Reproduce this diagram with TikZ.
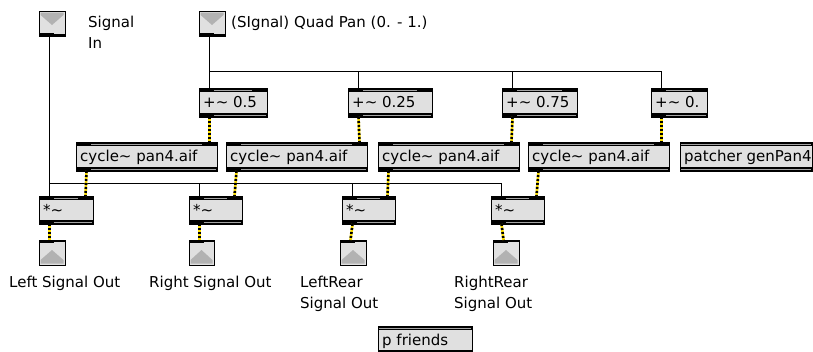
\documentclass[tikz,border=0pt]{standalone}
\usepackage{fontspec}
\newfontfamily\geneva{DejaVu Sans}
\usetikzlibrary{calc}
\definecolor{boxfill}{RGB}{224,224,224}
\definecolor{stripe}{RGB}{165,165,165}
\definecolor{triang}{RGB}{178,178,178}
\definecolor{sigyellow}{RGB}{255,225,0}
\tikzset{
  objbody/.style={draw=black, fill=boxfill, line width=1pt, inner sep=0pt, outer sep=0pt},
  objtext/.style={font=\geneva\fontsize{15}{21}\selectfont, inner sep=0pt, text=black},
  lbl/.style={font=\geneva\fontsize{15}{21}\selectfont, inner sep=0pt, text=black, align=left},
  cord/.style={line width=1pt, draw=black},
  sigcord/.style={line width=2.6pt, draw=black, dash pattern=on 2pt off 2pt,
                  preaction={draw=sigyellow, line width=2.6pt, solid}},
}
% object box: name, x1, y1, x2, y2, text, io flag
\newcommand{\maxobj}[7]{%
  \node[objbody, minimum width={(#4-#2)*1pt}, minimum height={(#5-#3)*1pt}, anchor=north west] (#1) at (#2,#3) {};
  \fill[black] (#2,#3) rectangle (#4,#3+4);
  \fill[black] (#2,#5-4) rectangle (#4,#5);
  \ifnum#7=1
    \fill[stripe] (#2+15,#3+1.5) rectangle (#4-15,#3+2.5);
    \fill[stripe] (#2+15,#5-2.5) rectangle (#4-1,#5-1.5);
  \else
    \fill[stripe] (#2+1,#3+1.5) rectangle (#4-1,#3+2.5);
    \fill[stripe] (#2+1,#5-2.5) rectangle (#4-1,#5-1.5);
  \fi
  \node[objtext, anchor=base west] (#1-t) at (#2+4,#3+19) {#6};
  \coordinate (#1-i1) at (#2+10.5,#3);
  \coordinate (#1-i2) at (#4-7.5,#3);
  \coordinate (#1-o) at (#2+10.5,#5);
}
% inlet object: name, x1, y1, x2, y2
\newcommand{\maxinlet}[5]{%
  \node[objbody, minimum width={(#4-#2)*1pt}, minimum height={(#5-#3)*1pt}, anchor=north west] (#1) at (#2,#3) {};
  \fill[triang] (#2+1.5,#3+1.5) -- (#4-1.5,#3+1.5) -- (#4-1.5,#3+4) -- ({(#2+#4)/2},#3+14) -- (#2+1.5,#3+4) -- cycle;
  \fill[black] (#2,#5-3) rectangle (#2+15,#5);
  \fill[black] (#2,#5-1.8) rectangle (#4,#5);
  \coordinate (#1-o) at (#2+10.5,#5);
}
% outlet object: name, x1, y1, x2, y2
\newcommand{\maxoutlet}[5]{%
  \node[objbody, minimum width={(#4-#2)*1pt}, minimum height={(#5-#3)*1pt}, anchor=north west] (#1) at (#2,#3) {};
  \fill[black] (#2,#3) rectangle (#2+15,#3+3);
  \fill[black] (#2,#3) rectangle (#4,#3+1.5);
  \fill[triang] (#2+1.5,#5-1.5) -- (#2+1.5,#5-5) -- ({(#2+#4)/2},#3+10) -- (#4-1.5,#5-5) -- (#4-1.5,#5-1.5) -- cycle;
  \coordinate (#1-i1) at (#2+10.5,#3);
}
\begin{document}
\begin{tikzpicture}[x=1pt, y=-1pt]
  \useasboundingbox[fill=white] (0,0) rectangle (813,351);

  % inlets
  \maxinlet{inA}{39}{11}{65}{36}
  \maxinlet{inB}{199}{11}{225}{36}
  \node[lbl, anchor=base west] (lblA) at (88,48) {Signal\\In};
  \node[lbl, anchor=base west] (lblB) at (231,27) {(SIgnal) Quad Pan (0. - 1.)};

  % +~ objects
  \maxobj{plusA}{199}{88}{267}{117}{+\textasciitilde{} 0.5}{1}
  \maxobj{plusB}{348}{88}{432}{117}{+\textasciitilde{} 0.25}{1}
  \maxobj{plusC}{502}{88}{577}{117}{+\textasciitilde{} 0.75}{1}
  \maxobj{plusD}{651}{88}{707}{117}{+\textasciitilde{} 0.}{1}

  % cycle~ objects
  \maxobj{cycA}{76}{142}{217}{171}{cycle\textasciitilde{} pan4.aif}{1}
  \maxobj{cycB}{226}{142}{367}{171}{cycle\textasciitilde{} pan4.aif}{1}
  \maxobj{cycC}{378}{142}{519}{171}{cycle\textasciitilde{} pan4.aif}{1}
  \maxobj{cycD}{528}{142}{669}{171}{cycle\textasciitilde{} pan4.aif}{1}
  \maxobj{patch}{680}{142}{812}{171}{patcher genPan4}{0}

  % *~ objects
  \maxobj{mulA}{39}{196}{93}{224}{*\textasciitilde}{1}
  \maxobj{mulB}{189}{196}{242}{224}{*\textasciitilde}{1}
  \maxobj{mulC}{342}{196}{395}{224}{*\textasciitilde}{1}
  \maxobj{mulD}{491}{196}{544}{224}{*\textasciitilde}{1}

  % outlets
  \maxoutlet{outA}{39}{240}{65}{265}
  \maxoutlet{outB}{189}{240}{214}{265}
  \maxoutlet{outC}{340}{240}{366}{265}
  \maxoutlet{outD}{493}{240}{519}{265}
  \node[lbl, anchor=base west] (lblOA) at (9,287) {Left Signal Out};
  \node[lbl, anchor=base west] (lblOB) at (149,287) {Right Signal Out};
  \node[lbl, anchor=base west] (lblOC) at (300,308) {LeftRear\\Signal Out};
  \node[lbl, anchor=base west] (lblOD) at (454,308) {RightRear\\Signal Out};

  \maxobj{friends}{378}{326}{472}{354}{p friends}{0}

  % control cords
  \draw[cord] (inA-o) -- (mulA-i1);
  \draw[cord] (inA-o) |- ($(mulB-i1)+(0,-13)$) -- (mulB-i1);
  \draw[cord] (inA-o) |- ($(mulC-i1)+(0,-13)$) -- (mulC-i1);
  \draw[cord] (inA-o) |- ($(mulD-i1)+(0,-13)$) -- (mulD-i1);
  \draw[cord] (inB-o) -- (plusA-i1);
  \draw[cord] (inB-o) |- ($(plusB-i1)+(0,-17)$) -- (plusB-i1);
  \draw[cord] (inB-o) |- ($(plusC-i1)+(0,-17)$) -- (plusC-i1);
  \draw[cord] (inB-o) |- ($(plusD-i1)+(0,-17)$) -- (plusD-i1);

  % signal cords
  \draw[sigcord] (plusA-o) -- (cycA-i2);
  \draw[sigcord] (plusB-o) -- (cycB-i2);
  \draw[sigcord] (plusC-o) -- (cycC-i2);
  \draw[sigcord] (plusD-o) -- (cycD-i2);
  \draw[sigcord] (cycA-o) -- (mulA-i2);
  \draw[sigcord] (cycB-o) -- (mulB-i2);
  \draw[sigcord] (cycC-o) -- (mulC-i2);
  \draw[sigcord] (cycD-o) -- (mulD-i2);
  \draw[sigcord] (mulA-o) -- (outA-i1);
  \draw[sigcord] (mulB-o) -- (outB-i1);
  \draw[sigcord] (mulC-o) -- (outC-i1);
  \draw[sigcord] (mulD-o) -- (outD-i1);
\end{tikzpicture}
\end{document}
